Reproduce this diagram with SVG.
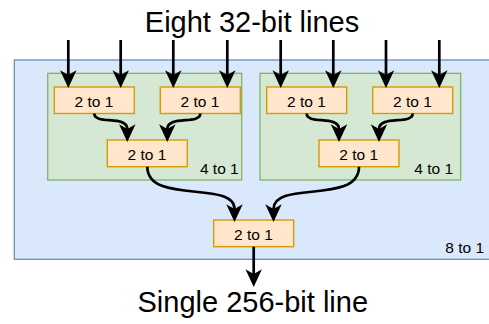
<svg xmlns="http://www.w3.org/2000/svg" width="489" height="324" viewBox="0 0 489 324">
<defs>
<style>
.outer{fill:#dae8fc;stroke:#6c8ebf;stroke-width:1.3}
.grp{fill:#d5e8d4;stroke:#82b366;stroke-width:1.3}
.mux{fill:#ffe6cc;stroke:#d79b00;stroke-width:1.4}
.lbl{font-family:"Liberation Sans",Arial,sans-serif;font-size:15.5px;fill:#000}
.big{font-family:"Liberation Sans",Arial,sans-serif;font-size:29px;fill:#000}
.edge{fill:none;stroke:#000;stroke-width:2.7;marker-end:url(#ah)}
</style>
<marker id="ah" markerUnits="userSpaceOnUse" markerWidth="20" markerHeight="20" viewBox="0 -8 17 16" refX="4" refY="0" orient="auto">
<path d="M0,-7 L15,0 L0,7 L4,0 Z" fill="#000"/>
</marker>
</defs>
<text class="big" x="252" y="31.5" text-anchor="middle">Eight 32-bit lines</text>
<g id="mux8">
<rect class="outer" x="14.3" y="60" width="480" height="199.3"/>
<text class="lbl" x="484" y="253" text-anchor="end">8 to 1</text>
</g>
<g id="mux4a">
<rect class="grp" x="47.7" y="73.3" width="194" height="106.7"/>
<text class="lbl" x="238.7" y="174" text-anchor="end">4 to 1</text>
</g>
<g id="mux4b">
<rect class="grp" x="260" y="73.3" width="200.7" height="106.7"/>
<text class="lbl" x="453" y="174" text-anchor="end">4 to 1</text>
</g>
<g id="a1"><rect class="mux" x="54.3" y="87" width="80" height="26.5"/><text class="lbl" x="94" y="107" text-anchor="middle">2 to 1</text></g>
<g id="a2"><rect class="mux" x="160.3" y="87" width="80" height="26.5"/><text class="lbl" x="200" y="107" text-anchor="middle">2 to 1</text></g>
<g id="a3"><rect class="mux" x="107.3" y="140" width="80" height="26.7"/><text class="lbl" x="147" y="160" text-anchor="middle">2 to 1</text></g>
<g id="b1"><rect class="mux" x="266.7" y="87" width="80" height="26.5"/><text class="lbl" x="306.4" y="107" text-anchor="middle">2 to 1</text></g>
<g id="b2"><rect class="mux" x="372.7" y="87" width="80" height="26.5"/><text class="lbl" x="412.4" y="107" text-anchor="middle">2 to 1</text></g>
<g id="b3"><rect class="mux" x="319" y="140" width="80" height="26.7"/><text class="lbl" x="358.7" y="160" text-anchor="middle">2 to 1</text></g>
<g id="c"><rect class="mux" x="213.7" y="220" width="80" height="26.7"/><text class="lbl" x="253.4" y="240" text-anchor="middle">2 to 1</text></g>
<g id="connectors">
<path class="edge" d="M68.3,40 V75"/>
<path class="edge" d="M120.7,40 V75"/>
<path class="edge" d="M173.3,40 V75"/>
<path class="edge" d="M227.3,40 V75"/>
<path class="edge" d="M280.7,40 V75"/>
<path class="edge" d="M333.3,40 V75"/>
<path class="edge" d="M386,40 V75"/>
<path class="edge" d="M439.3,40 V75"/>
<path class="edge" d="M94.3,113.5 C94.3,125 127.3,115 127.3,129"/>
<path class="edge" d="M200.3,113.5 C200.3,125 167.3,115 167.3,129"/>
<path class="edge" d="M306.7,113.5 C306.7,125 339,115 339,129"/>
<path class="edge" d="M412.7,113.5 C412.7,125 379,115 379,129"/>
<path class="edge" d="M147.3,166.7 C147.3,205 234.5,180 234.5,209"/>
<path class="edge" d="M359,166.7 C359,205 273.5,180 273.5,209"/>
<path class="edge" d="M253.7,246.7 V274"/>
</g>
<text class="big" x="252.8" y="312" text-anchor="middle">Single 256-bit line</text>
</svg>
